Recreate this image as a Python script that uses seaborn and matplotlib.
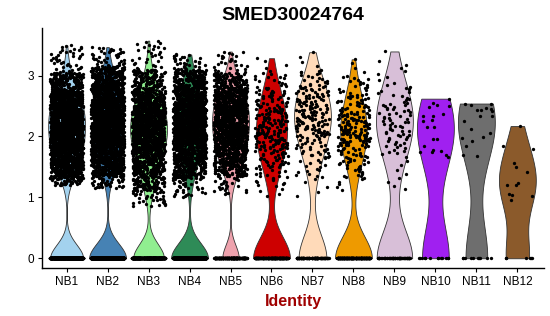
import numpy as np
import pandas as pd
import matplotlib
matplotlib.use("Agg")
import matplotlib.pyplot as plt
import seaborn as sns

# ---------------- data ----------------
clusters = ["NB1", "NB2", "NB3", "NB4", "NB5", "NB6",
            "NB7", "NB8", "NB9", "NB10", "NB11", "NB12"]
colors = ["#a3d2ee", "#4682b4", "#90ee90", "#2e8b57", "#eea2ad", "#cd0000",
          "#ffdab9", "#ee9a00", "#d8bfd8", "#a020f0", "#6e6e6e", "#8b5a2b"]

# number of cells with zero expression per cluster
n_zero = [700, 1000, 500, 900, 220, 170, 100, 190, 60, 13, 10, 6]
# number of expressing cells (large clusters, summarised by quantiles)
n_pos = [2000, 2000, 1500, 1600, 1300, 250, 210, 220, 90]

# quantile summaries of the expressing cells
probs = [0.0, 0.02, 0.10, 0.25, 0.50, 0.75, 0.90, 0.98, 1.0]
q_NB1 = [1.20, 1.32, 1.52, 1.80, 2.15, 2.50, 2.75, 3.05, 3.50]
q_NB2 = [1.15, 1.35, 1.55, 1.85, 2.20, 2.60, 2.90, 3.15, 3.47]
q_NB3 = [0.85, 1.10, 1.40, 1.75, 2.10, 2.45, 2.75, 3.10, 3.58]
q_NB4 = [1.00, 1.30, 1.55, 1.85, 2.20, 2.55, 2.85, 3.10, 3.35]
q_NB5 = [1.05, 1.35, 1.55, 1.85, 2.20, 2.55, 2.80, 3.05, 3.40]
q_NB6 = [1.00, 1.20, 1.50, 1.80, 2.10, 2.45, 2.75, 3.05, 3.31]
q_NB7 = [0.98, 1.30, 1.65, 2.00, 2.30, 2.60, 2.85, 3.10, 3.42]
q_NB8 = [1.10, 1.30, 1.55, 1.85, 2.10, 2.40, 2.70, 3.00, 3.30]
q_NB9 = [1.12, 1.20, 1.70, 1.95, 2.25, 2.55, 2.85, 3.20, 3.47]

# individual expressing cells of the small clusters
v_NB10 = [2.62, 2.55, 2.52, 2.50, 2.49, 2.37, 2.34, 2.34, 2.27, 2.25, 2.16,
          2.16, 1.96, 1.95, 1.85, 1.77, 1.76, 1.74, 1.74, 1.69, 1.67]
v_NB11 = [2.54, 2.54, 2.52, 2.47, 2.45, 2.44, 2.43, 2.42, 2.34, 2.33, 2.26,
          2.13, 2.06, 1.99, 1.97, 1.93, 1.85, 1.70, 1.68]
v_NB12 = [2.17, 1.84, 1.80, 1.57, 1.50, 1.41, 1.24, 1.21, 1.20, 1.05, 1.04,
          1.03, 0.96]

title = "SMED30024764"
xlabel = "Identity"
yticks = [0, 1, 2, 3]

# ---------------- build table ----------------
quant = [q_NB1, q_NB2, q_NB3, q_NB4, q_NB5, q_NB6, q_NB7, q_NB8, q_NB9]
small = [v_NB10, v_NB11, v_NB12]
rows_id, rows_val = [], []
for i, c in enumerate(clusters):
    if i < len(quant):
        pos = np.interp((np.arange(n_pos[i]) + 0.5) / n_pos[i], probs, quant[i])
    else:
        pos = np.array(small[i - len(quant)])
    vals = np.concatenate([np.zeros(n_zero[i]), pos])
    rows_id += [c] * len(vals)
    rows_val += list(vals)
df = pd.DataFrame({"ident": rows_id, "expr": rows_val})

# ---------------- plot ----------------
sns.set_style("ticks")
plt.rcParams["font.family"] = ["Liberation Sans", "DejaVu Sans"]
plt.rcParams["text.color"] = "black"
plt.rcParams["axes.labelcolor"] = "black"

fig = plt.figure(figsize=(5.5, 3.16), dpi=100)
ax = fig.add_axes([42 / 550, 1 - 268 / 316, 502 / 550, 240 / 316])

sns.violinplot(data=df, x="ident", y="expr", hue="ident", order=clusters,
               hue_order=clusters, palette=colors, inner=None, cut=0,
               density_norm="width", width=0.9, linewidth=0.6,
               linecolor="#333333", saturation=1, bw_method="silverman",
               legend=False, ax=ax)
np.random.seed(1)
sns.stripplot(data=df, x="ident", y="expr", order=clusters, color="black",
              size=2.4, jitter=0.4, linewidth=0, ax=ax, zorder=3)

ax.set_xlim(-0.6, 11.65)
ax.set_ylim(-0.16, 3.78)
ax.set_yticks(yticks)
ax.set_ylabel("")
ax.set_xlabel(xlabel, fontsize=11.5, fontweight="bold", color="#a00000",
              labelpad=4)
ax.set_title(title, fontsize=14, fontweight="bold", pad=6, color="black")
ax.tick_params(axis="both", labelsize=8.5, length=3, width=0.8, pad=3,
               colors="black")
for s in ["top", "right"]:
    ax.spines[s].set_visible(False)
for s in ["left", "bottom"]:
    ax.spines[s].set_linewidth(1.0)
    ax.spines[s].set_color("black")

fig.savefig("out.png", dpi=100)
